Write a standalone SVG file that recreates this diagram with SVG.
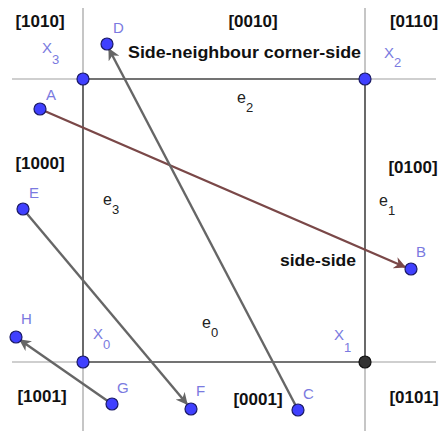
<svg xmlns="http://www.w3.org/2000/svg" width="443" height="432" viewBox="0 0 443 432">
<style>
.ext{stroke:#a0a0a0;stroke-width:1.2}
.edge{stroke:#444;stroke-width:1.6}
.pt{fill:#4040ff;stroke:#1a1a66;stroke-width:1.2}
.pl{font-family:"Liberation Sans",Arial,sans-serif;font-size:15px;fill:#7a7ae0}
.code{font-family:"Liberation Sans",Arial,sans-serif;font-size:17px;font-weight:bold;fill:#111}
.el{font-family:"Liberation Sans",Arial,sans-serif;font-size:16px;fill:#222}
.seg{stroke:#666;stroke-width:2.4;fill:none}
</style>
<defs>
<marker id="ag" viewBox="0 0 10 10" refX="9" refY="5" markerWidth="5" markerHeight="5" orient="auto" markerUnits="strokeWidth"><path d="M0,0 L10,5 L0,10 L3,5 Z" fill="#666"/></marker>
<marker id="ab" viewBox="0 0 10 10" refX="9" refY="5" markerWidth="5" markerHeight="5" orient="auto" markerUnits="strokeWidth"><path d="M0,0 L10,5 L0,10 L3,5 Z" fill="#7a4848"/></marker>
</defs>
<g id="grid">
<line class="ext" x1="12" y1="79" x2="83" y2="79"/>
<line class="ext" x1="365" y1="79" x2="436" y2="79"/>
<line class="ext" x1="12" y1="362" x2="83" y2="362"/>
<line class="ext" x1="365" y1="362" x2="436" y2="362"/>
<line class="ext" x1="83" y1="8" x2="83" y2="79"/>
<line class="ext" x1="83" y1="362" x2="83" y2="431"/>
<line class="ext" x1="365" y1="8" x2="365" y2="79"/>
<line class="ext" x1="365" y1="362" x2="365" y2="431"/>
<line class="edge" x1="83" y1="79" x2="365" y2="79"/>
<line class="edge" x1="83" y1="362" x2="365" y2="362"/>
<line class="edge" x1="83" y1="79" x2="83" y2="362"/>
<line class="edge" x1="365" y1="79" x2="365" y2="362"/>
</g>
<g id="connectors">
<line x1="40" y1="109" x2="405" y2="267" stroke="#7a4848" stroke-width="2.4" marker-end="url(#ab)"/>
<line class="seg" x1="298" y1="410" x2="109" y2="49" marker-end="url(#ag)"/>
<line class="seg" x1="23" y1="209" x2="187" y2="404" marker-end="url(#ag)"/>
<line class="seg" x1="112" y1="404" x2="20" y2="340" marker-end="url(#ag)"/>
</g>
<g id="labels">
<text class="code" x="40" y="27" text-anchor="middle">[1010]</text>
<text class="code" x="253" y="27" text-anchor="middle">[0010]</text>
<text class="code" x="414" y="27" text-anchor="middle">[0110]</text>
<text class="code" x="40" y="169" text-anchor="middle">[1000]</text>
<text class="code" x="413" y="173" text-anchor="middle">[0100]</text>
<text class="code" x="42" y="402" text-anchor="middle">[1001]</text>
<text class="code" x="258" y="405" text-anchor="middle">[0001]</text>
<text class="code" x="414" y="403" text-anchor="middle">[0101]</text>
<text class="code" x="128" y="58" textLength="233" lengthAdjust="spacingAndGlyphs">Side-neighbour corner-side</text>
<text class="code" x="280" y="266" textLength="76" lengthAdjust="spacingAndGlyphs">side-side</text>
<text class="el" x="237" y="103">e<tspan font-size="13" dy="9">2</tspan></text>
<text class="el" x="103" y="205">e<tspan font-size="13" dy="9">3</tspan></text>
<text class="el" x="379" y="206">e<tspan font-size="13" dy="9">1</tspan></text>
<text class="el" x="202" y="328">e<tspan font-size="13" dy="9">0</tspan></text>
</g>
<g id="X3"><circle class="pt" cx="83" cy="79" r="6"/><text class="pl" x="42" y="53">X<tspan font-size="13" dy="11">3</tspan></text></g>
<g id="X2"><circle class="pt" cx="365" cy="79" r="6"/><text class="pl" x="384" y="58">X<tspan font-size="13" dy="9">2</tspan></text></g>
<g id="X0"><circle class="pt" cx="83" cy="362" r="6"/><text class="pl" x="93" y="339">X<tspan font-size="13" dy="10">0</tspan></text></g>
<g id="X1"><circle cx="365" cy="362" r="6" fill="#333" stroke="#111" stroke-width="1.2"/><text class="pl" x="334" y="340">X<tspan font-size="13" dy="12">1</tspan></text></g>
<g id="A"><circle class="pt" cx="40" cy="109" r="6"/><text class="pl" x="46" y="100">A</text></g>
<g id="B"><circle class="pt" cx="411" cy="269" r="6"/><text class="pl" x="416" y="257">B</text></g>
<g id="C"><circle class="pt" cx="298" cy="410" r="6"/><text class="pl" x="303" y="399">C</text></g>
<g id="D"><circle class="pt" cx="107" cy="44" r="6"/><text class="pl" x="113" y="33">D</text></g>
<g id="E"><circle class="pt" cx="23" cy="209" r="6"/><text class="pl" x="29" y="198">E</text></g>
<g id="F"><circle class="pt" cx="191" cy="409" r="6"/><text class="pl" x="196" y="396">F</text></g>
<g id="G"><circle class="pt" cx="112" cy="404" r="6"/><text class="pl" x="117" y="393">G</text></g>
<g id="H"><circle class="pt" cx="16" cy="337" r="6"/><text class="pl" x="21" y="324">H</text></g>
</svg>
